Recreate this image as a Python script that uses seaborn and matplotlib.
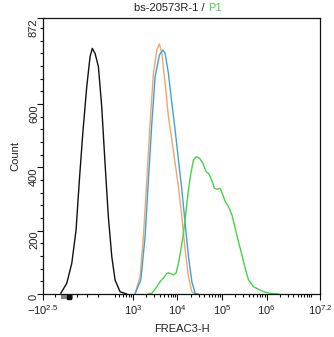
import numpy as np
import pandas as pd
import matplotlib
matplotlib.use("Agg")
import matplotlib.pyplot as plt
import matplotlib.transforms as mtransforms
from matplotlib.ticker import FixedLocator, MultipleLocator
import seaborn as sns

# ---------------- data ----------------
black_x = [-150, -94, -47, -7, 24, 56, 93, 124, 145, 171, 202, 233, 264, 295,
           336, 398, 516, 729]
black_y = [2, 34, 97, 202, 360, 508, 655, 750, 776, 760, 718, 592, 413, 244,
           118, 44, 7, 0]

orange_x = [1121, 1451, 1721, 2053, 2435, 2888, 3445, 3940, 4461, 5291, 6277,
            7483, 8878, 10530, 12560, 14890, 17670, 21070, 24990]
orange_y = [2, 55, 181, 360, 539, 697, 771, 790, 760, 666, 560, 487, 413, 339,
            244, 139, 55, 7, 0]

blue_x = [1121, 1505, 1880, 2230, 2659, 3155, 3940, 4697, 5291, 6277, 7483,
          8878, 10530, 12560, 14890, 17670, 21070, 24990, 29650]
blue_y = [1, 44, 181, 360, 539, 687, 755, 771, 760, 697, 603, 518, 423, 329,
          223, 118, 39, 2, 0]

green_x = [2230, 2700, 3445, 4086, 4846, 5778, 6277, 7483, 8131, 9350, 10530,
           11925, 13640, 15690, 17670, 20000, 22880, 26320, 31220, 37230,
           44150, 49720, 56300, 67830, 79220, 91100, 104800, 118000, 140000,
           166900, 198000, 234900, 280100, 332100, 394000, 510300, 661100,
           856200, 1211000, 1860000]
green_y = [0, 3, 23, 39, 50, 65, 67, 63, 60, 67, 97, 139, 192, 265, 329, 381,
           423, 434, 429, 413, 386, 381, 366, 334, 331, 334, 313, 292, 276,
           250, 208, 165, 123, 81, 44, 23, 15, 7, 2, 0]

series_names = ["black", "orange", "blue", "green"]
series_colors = ["#111111", "#f4a46c", "#3ba3d9", "#44d444"]

xtick_vals = [-10 ** 2.5, 1e3, 1e4, 1e5, 1e6, 10 ** 7.2]
xtick_labels = [r"$-10^{2.5}$", r"$10^{3}$", r"$10^{4}$", r"$10^{5}$",
                r"$10^{6}$", r"$10^{7.2}$"]
ytick_vals = [0, 200, 400, 600, 872]
ytick_labels = ["0", "200", "400", "600", "872"]

title_main = "bs-20573R-1 /"
title_gate = "P1"
x_label = "FREAC3-H"
y_label = "Count"

# ---------------- build table ----------------
frames = []
for name, xs, ys in zip(series_names,
                        [black_x, orange_x, blue_x, green_x],
                        [black_y, orange_y, blue_y, green_y]):
    frames.append(pd.DataFrame({"value": xs, "count": ys, "sample": name}))
df = pd.concat(frames, ignore_index=True)

# ---------------- style ----------------
sns.set_theme(style="white")
plt.rcParams["font.family"] = ["Liberation Sans", "DejaVu Sans"]
plt.rcParams["mathtext.fontset"] = "custom"
plt.rcParams["mathtext.rm"] = "Liberation Sans"
plt.rcParams["mathtext.it"] = "Liberation Sans"
plt.rcParams["mathtext.bf"] = "Liberation Sans"
plt.rcParams["mathtext.sf"] = "Liberation Sans"

fig = plt.figure(figsize=(3.34, 3.37), dpi=100)
fig.patch.set_facecolor("white")
ax = fig.add_axes([43 / 334, 43 / 337, 277 / 334, 276 / 337])

ax.set_xscale("symlog", linthresh=10 ** 2.5, linscale=0.683)

for name, col in zip(series_names, series_colors):
    sub = df[df["sample"] == name]
    sns.lineplot(data=sub, x="value", y="count", color=col, lw=1.0,
                 estimator=None, sort=False, ax=ax, legend=False)

ax.set_xlim(-10 ** 2.5, 10 ** 7.2)
ax.set_ylim(0, 872)

# ticks
ax.xaxis.set_major_locator(FixedLocator(xtick_vals))
ax.set_xticklabels(xtick_labels)
minor_x = [m * 10 ** k for k in range(3, 7) for m in range(2, 10)]
minor_x += [m * 100 for m in range(4, 10)]
minor_x += [10 ** 7, -200, -100, 0, 100, 200]
ax.xaxis.set_minor_locator(FixedLocator(minor_x))

ax.yaxis.set_major_locator(FixedLocator(ytick_vals))
ax.set_yticklabels(ytick_labels)
ax.yaxis.set_minor_locator(MultipleLocator(40))

ax.tick_params(axis="both", which="both", direction="out", colors="#111111",
               labelcolor="#222222", labelsize=8, width=0.8,
               bottom=True, left=True, top=False, right=False)
ax.tick_params(axis="both", which="major", length=4.5, pad=2)
ax.tick_params(axis="both", which="minor", length=2.5)
for lbl in ax.get_yticklabels():
    lbl.set_rotation(90)
    lbl.set_va("top")
    lbl.set_ha("center")

for sp in ax.spines.values():
    sp.set_visible(True)
    sp.set_color("#111111")
    sp.set_linewidth(0.9)

ax.set_xlabel(x_label, fontsize=8, color="#222222", labelpad=5)
ax.set_ylabel(y_label, fontsize=8, color="#222222", labelpad=6)

# zero-region indicator on the x axis (FlowJo style)
trans = mtransforms.blended_transform_factory(ax.transData, ax.transAxes)
ax.plot([-150, -40], [-0.012, -0.012], transform=trans, color="#888888",
        lw=3, solid_capstyle="butt", clip_on=False)
ax.plot([-77], [-0.012], transform=trans, marker="s", ms=2.5,
        color="#111111", clip_on=False)

ax.text(0.585, 1.036, title_main, transform=ax.transAxes, ha="right",
        va="center", fontsize=8, color="#222222")
ax.text(0.596, 1.036, title_gate, transform=ax.transAxes, ha="left",
        va="center", fontsize=8, color="#44d444")

fig.savefig("out.png", dpi=100, facecolor="white")
